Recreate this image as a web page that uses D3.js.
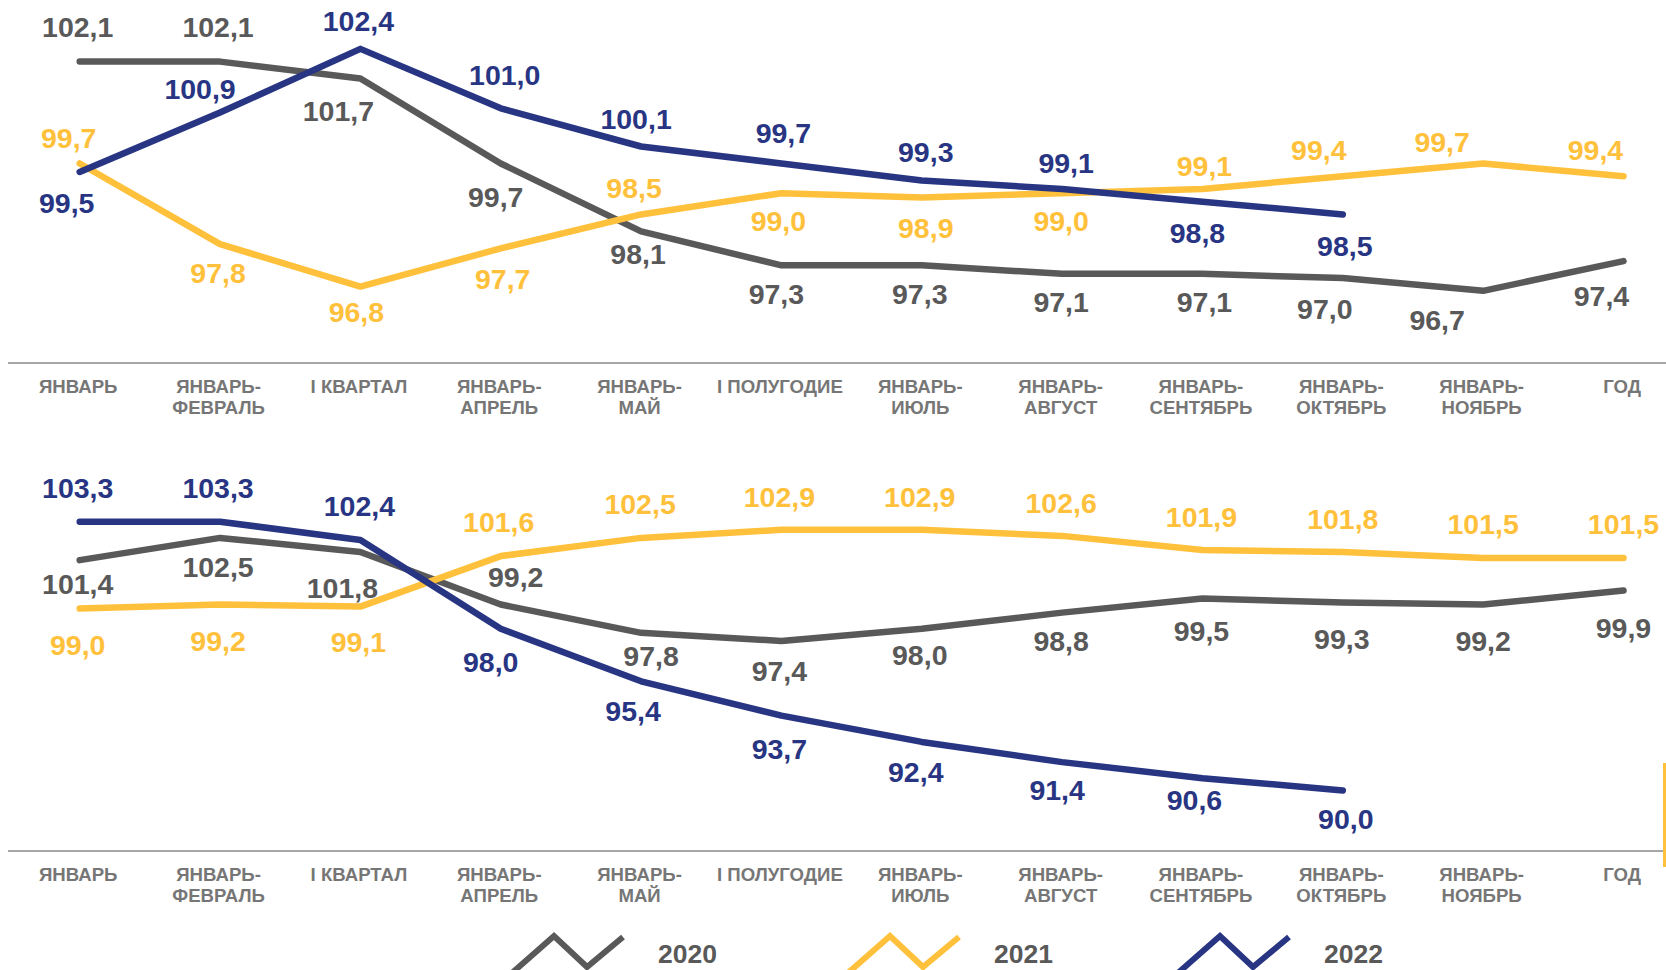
<!DOCTYPE html>
<html>
<head>
<meta charset="utf-8">
<script src="https://cdn.jsdelivr.net/npm/d3@7"></script>
<style>
  html, body { margin: 0; padding: 0; background: #ffffff; overflow: hidden; }
  svg { display: block; font-family: "Liberation Sans", Arial, sans-serif; }
</style>
</head>
<body>
<svg id="chart" width="1666" height="970"></svg>
<script>
// ---------- data ----------
const categories = [
  "ЯНВАРЬ", "ЯНВАРЬ-\nФЕВРАЛЬ", "I КВАРТАЛ", "ЯНВАРЬ-\nАПРЕЛЬ", "ЯНВАРЬ-\nМАЙ",
  "I ПОЛУГОДИЕ", "ЯНВАРЬ-\nИЮЛЬ", "ЯНВАРЬ-\nАВГУСТ", "ЯНВАРЬ-\nСЕНТЯБРЬ",
  "ЯНВАРЬ-\nОКТЯБРЬ", "ЯНВАРЬ-\nНОЯБРЬ", "ГОД"
];
const seriesNames = ["2020", "2021", "2022"];

// upper panel
const top2020 = [102.1, 102.1, 101.7, 99.7, 98.1, 97.3, 97.3, 97.1, 97.1, 97.0, 96.7, 97.4];
const top2021 = [99.7, 97.8, 96.8, 97.7, 98.5, 99.0, 98.9, 99.0, 99.1, 99.4, 99.7, 99.4];
const top2022 = [99.5, 100.9, 102.4, 101.0, 100.1, 99.7, 99.3, 99.1, 98.8, 98.5];

// lower panel
const bot2020 = [101.4, 102.5, 101.8, 99.2, 97.8, 97.4, 98.0, 98.8, 99.5, 99.3, 99.2, 99.9];
const bot2021 = [99.0, 99.2, 99.1, 101.6, 102.5, 102.9, 102.9, 102.6, 101.9, 101.8, 101.5, 101.5];
const bot2022 = [103.3, 103.3, 102.4, 98.0, 95.4, 93.7, 92.4, 91.4, 90.6, 90.0];

// ---------- label placement (offset of value label centre from its point) ----------
const top2020Off = [[-2,-35],[-2,-35],[-22,32],[-5,33],[-3,22],[-5,28],[-2,28],[-1,28],[2,28],[-18,31],[-46,29],[-22,35]];
const top2021Off = [[-11,-26],[-2,29],[-4,25],[2,30],[-7,-27],[-3,28],[4,30],[-1,28],[2,-23],[-24,-26],[-41,-22],[-28,-26]];
const top2022Off = [[-13,31],[-20,-24],[-2,-28],[4,-34],[-5,-28],[2,-31],[4,-29],[4,-26],[-5,31],[2,31]];
const bot2020Off = [[-2,24],[-2,29],[-18,36],[15,-28],[10,23],[-2,30],[-2,26],[-1,28],[-1,32],[-1,36],[0,36],[0,37]];
const bot2021Off = [[-2,36],[-2,36],[-2,35],[-2,-34],[-1,-34],[-2,-33],[-2,-33],[-1,-33],[-1,-33],[0,-33],[0,-34],[0,-34]];
const bot2022Off = [[-2,-34],[-2,-34],[-1,-34],[-10,33],[-8,29],[-2,33],[-6,30],[-5,28],[-8,21],[3,28]];

// ---------- styles ----------
const colors = { "2020": "#595959", "2021": "#FFC13B", "2022": "#283583" };
const axisTextColor = "#767676";
const fmt = v => d3.format(".1f")(v).replace(".", ",");

const svg = d3.select("#chart");

const x = d3.scalePoint().domain(categories).range([79.7, 1623.5]);

function panel(cfg) {
  const g = svg.append("g");
  const y = d3.scaleLinear().domain(cfg.domain).range(cfg.range);

  // baseline axis
  const axis = d3.axisBottom(x).tickSize(0).tickPadding(0);
  const ag = g.append("g").attr("transform", `translate(0,${cfg.range[0]})`).call(axis);
  ag.select(".domain").remove();
  g.insert("line", ":first-child")
    .attr("x1", 8).attr("x2", cfg.axisEnd)
    .attr("y1", cfg.range[0]).attr("y2", cfg.range[0])
    .attr("stroke", "#a6a6a6").attr("stroke-width", 2);
  ag.selectAll(".tick text").each(function(d) {
    const t = d3.select(this);
    t.text(null)
      .attr("fill", axisTextColor)
      .attr("font-size", 18.6)
      .attr("font-weight", "bold")
      .attr("font-family", "'Liberation Sans', Arial, sans-serif")
      .attr("text-anchor", "middle")
      .attr("y", 0).attr("dy", null);
    d.split("\n").forEach((line, i) => {
      t.append("tspan").attr("x", -2).attr("y", 30 + i * 21).text(line);
    });
  });

  const line = d3.line()
    .x((d, i) => x(categories[i]))
    .y(d => y(d));

  cfg.series.forEach(s => {
    g.append("path")
      .datum(s.values)
      .attr("d", line)
      .attr("fill", "none")
      .attr("stroke", colors[s.name])
      .attr("stroke-width", 6.5)
      .attr("stroke-linecap", "round")
      .attr("stroke-linejoin", "round");
  });

  cfg.series.forEach(s => {
    g.append("g").selectAll("text")
      .data(s.values)
      .join("text")
      .attr("x", (d, i) => x(categories[i]) + s.off[i][0])
      .attr("y", (d, i) => y(d) + s.off[i][1])
      .attr("dy", "0.36em")
      .attr("text-anchor", "middle")
      .attr("font-size", 28.5)
      .attr("font-weight", "bold")
      .attr("fill", colors[s.name])
      .text(d => fmt(d));
  });
}

panel({
  domain: [95, 103], range: [363, 363 - 8 * 42.45], axisEnd: 1666,
  series: [
    { name: "2020", values: top2020, off: top2020Off },
    { name: "2021", values: top2021, off: top2021Off },
    { name: "2022", values: top2022, off: top2022Off }
  ]
});

panel({
  domain: [87, 105], range: [851, 851 - 18 * 20.2], axisEnd: 1664,
  series: [
    { name: "2020", values: bot2020, off: bot2020Off },
    { name: "2021", values: bot2021, off: bot2021Off },
    { name: "2022", values: bot2022, off: bot2022Off }
  ]
});

// decorative yellow edge mark at the right
svg.append("rect").attr("x", 1663).attr("y", 763).attr("width", 3).attr("height", 104)
  .attr("fill", colors["2021"]);

// ---------- legend ----------
const legendPeaks = [554, 890, 1220];
const zig = [[-50, 44], [0, 0], [33, 31], [69, 1]];
seriesNames.forEach((name, i) => {
  const lg = svg.append("g").attr("transform", `translate(${legendPeaks[i]},936)`);
  lg.append("path")
    .attr("d", d3.line()(zig))
    .attr("fill", "none")
    .attr("stroke", colors[name])
    .attr("stroke-width", 6)
    .attr("stroke-linejoin", "miter");
  lg.append("text")
    .attr("x", 104).attr("y", 17).attr("dy", "0.36em")
    .attr("font-size", 26.5).attr("font-weight", "bold")
    .attr("fill", "#595959")
    .text(name);
});
</script>
</body>
</html>
